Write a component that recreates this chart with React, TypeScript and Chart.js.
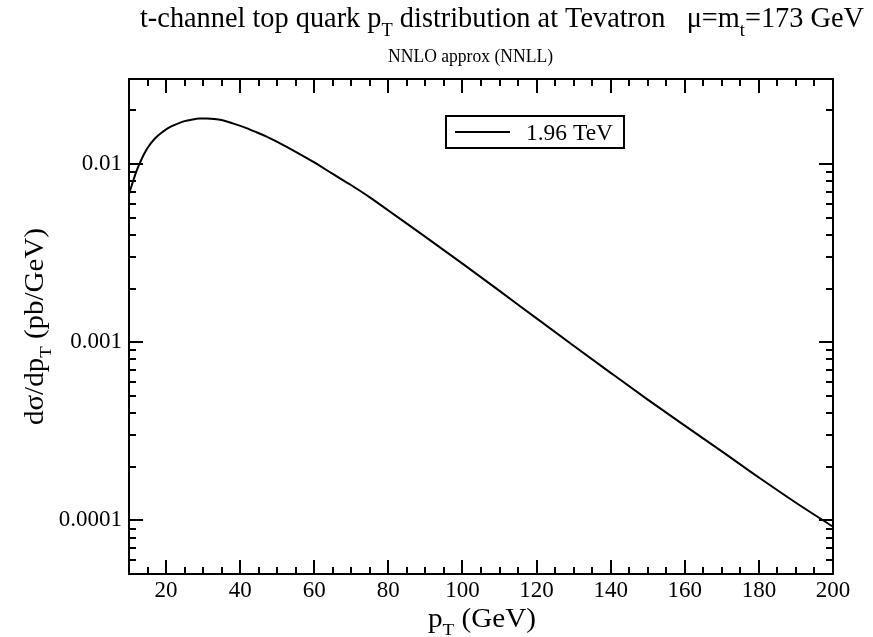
import React, { useEffect, useRef } from 'react';
import { Chart, registerables } from 'chart.js';

Chart.register(...registerables);

// ---- data ----
const ptValues = [10, 11, 12, 13, 14, 15, 17, 19, 21, 23, 25, 27, 29, 31, 33, 35, 38, 41, 44, 47, 50, 55, 60, 65, 70, 75, 80, 90, 100, 110, 120, 130, 140, 150, 160, 170, 180, 190, 200];
const dsigmaValues = [0.0068, 0.0079, 0.0091, 0.0102, 0.0113, 0.0123, 0.0139, 0.0151, 0.0161, 0.0168, 0.0174, 0.01775, 0.01798, 0.01800, 0.0179, 0.01765, 0.0169, 0.0161, 0.0152, 0.0143, 0.0133, 0.0117, 0.0102, 0.0088, 0.0076, 0.0065, 0.00548, 0.0039, 0.00276, 0.00194, 0.00136, 0.000955, 0.000673, 0.000476, 0.00034, 0.000244, 0.000174, 0.0001256, 0.0000921];

const xMajorTicks = [20, 40, 60, 80, 100, 120, 140, 160, 180, 200];
const xMinorTicks = [15, 25, 30, 35, 45, 50, 55, 65, 70, 75, 85, 90, 95, 105, 110, 115, 125, 130, 135, 145, 150, 155, 165, 170, 175, 185, 190, 195];
const yMajorTicks = [0.0001, 0.001, 0.01];
const yTickLabels = ['0.0001', '0.001', '0.01'];
const yMinorTicks = [0.00006, 0.00007, 0.00008, 0.00009, 0.0002, 0.0003, 0.0004, 0.0005, 0.0006, 0.0007, 0.0008, 0.0009, 0.002, 0.003, 0.004, 0.005, 0.006, 0.007, 0.008, 0.009, 0.02];

const seriesLabel = '1.96 TeV';
const FONT = '"Liberation Serif", "Times New Roman", serif';

type Seg = { t: string; sub?: boolean };

function drawRich(ctx: CanvasRenderingContext2D, segs: Seg[], x: number, y: number, size: number, targetWidth?: number) {
  const subSize = size * 0.65;
  const widths = segs.map((s) => {
    ctx.font = `${s.sub ? subSize : size}px ${FONT}`;
    return ctx.measureText(s.t).width;
  });
  const total = widths.reduce((a, b) => a + b, 0);
  const sx = targetWidth ? targetWidth / total : 1;
  ctx.save();
  ctx.translate(x, y);
  ctx.scale(sx, 1);
  ctx.textAlign = 'left';
  ctx.textBaseline = 'alphabetic';
  ctx.fillStyle = '#000';
  let cx = 0;
  segs.forEach((s, i) => {
    ctx.font = `${s.sub ? subSize : size}px ${FONT}`;
    ctx.fillText(s.t, cx, s.sub ? size * 0.3 : 0);
    cx += widths[i];
  });
  ctx.restore();
}

const decorPlugin = {
  id: 'decor',
  afterDraw(chart: any) {
    const ctx: CanvasRenderingContext2D = chart.ctx;
    const { left, right, top, bottom } = chart.chartArea;
    const xs = chart.scales.x;
    const ys = chart.scales.y;
    ctx.save();
    ctx.strokeStyle = '#000';
    ctx.lineWidth = 2;
    ctx.lineCap = 'butt';
    // frame
    ctx.strokeRect(left, top, right - left, bottom - top);
    const major = 14;
    const minor = 7;
    ctx.beginPath();
    const xt = (v: number, len: number) => {
      const px = Math.round(xs.getPixelForValue(v));
      ctx.moveTo(px, bottom);
      ctx.lineTo(px, bottom - len);
      ctx.moveTo(px, top);
      ctx.lineTo(px, top + len);
    };
    const yt = (v: number, len: number) => {
      const py = Math.round(ys.getPixelForValue(v));
      ctx.moveTo(left, py);
      ctx.lineTo(left + len, py);
      ctx.moveTo(right, py);
      ctx.lineTo(right - len, py);
    };
    xMajorTicks.forEach((v) => xt(v, major));
    xMinorTicks.forEach((v) => xt(v, minor));
    yMajorTicks.forEach((v) => yt(v, major));
    yMinorTicks.forEach((v) => yt(v, minor));
    ctx.stroke();

    // legend
    ctx.lineWidth = 2;
    ctx.strokeRect(446, 116, 178, 32);
    ctx.beginPath();
    ctx.moveTo(455, 132);
    ctx.lineTo(510, 132);
    ctx.stroke();
    drawRich(ctx, [{ t: seriesLabel }], 526, 140, 23, 87);

    // titles
    drawRich(
      ctx,
      [
        { t: 't-channel top quark p' },
        { t: 'T', sub: true },
        { t: ' distribution at Tevatron   \u03BC=m' },
        { t: 't', sub: true },
        { t: '=173 GeV' },
      ],
      140,
      27,
      29,
      724
    );
    drawRich(ctx, [{ t: 'NNLO approx (NNLL)' }], 388, 62, 18, 165);
    drawRich(ctx, [{ t: 'p' }, { t: 'T', sub: true }, { t: ' (GeV)' }], 428, 627, 27, 108);

    ctx.save();
    ctx.translate(43, 425);
    ctx.rotate(-Math.PI / 2);
    drawRich(ctx, [{ t: 'd\u03C3/dp' }, { t: 'T', sub: true }, { t: ' (pb/GeV)' }], 0, 0, 27, 197);
    ctx.restore();

    ctx.restore();
  },
};

export default function App() {
  const canvasRef = useRef<HTMLCanvasElement | null>(null);

  useEffect(() => {
    if (!canvasRef.current) return;
    const chart = new Chart(canvasRef.current, {
      type: 'line',
      data: {
        datasets: [
          {
            label: seriesLabel,
            data: ptValues.map((x, i) => ({ x, y: dsigmaValues[i] })),
            borderColor: '#000',
            borderWidth: 2,
            pointRadius: 0,
            fill: false,
            cubicInterpolationMode: 'monotone',
          },
        ],
      },
      options: {
        responsive: false,
        animation: false,
        devicePixelRatio: 1,
        layout: { padding: { left: 0, right: 40, top: 79, bottom: 0 } },
        plugins: {
          legend: { display: false },
          title: { display: false },
          tooltip: { enabled: false },
        },
        scales: {
          x: {
            type: 'linear',
            min: 10,
            max: 200,
            grid: { display: false, drawTicks: false },
            border: { display: false },
            afterBuildTicks: (s: any) => {
              s.ticks = xMajorTicks.map((v) => ({ value: v }));
            },
            afterFit: (s: any) => {
              s.height = 63;
            },
            ticks: {
              autoSkip: false,
              maxRotation: 0,
              padding: 3,
              color: '#000',
              font: { family: FONT, size: 23 },
              callback: (v: any) => String(v),
            },
          },
          y: {
            type: 'logarithmic',
            min: 0.00005,
            max: 0.03,
            grid: { display: false, drawTicks: false },
            border: { display: false },
            afterBuildTicks: (s: any) => {
              s.ticks = yMajorTicks.map((v) => ({ value: v, major: true }));
            },
            afterFit: (s: any) => {
              s.width = 129;
            },
            ticks: {
              autoSkip: false,
              padding: 7,
              color: '#000',
              font: { family: FONT, size: 23 },
              callback: (v: any) => {
                const i = yMajorTicks.findIndex((t) => Math.abs(t - v) / t < 1e-6);
                return i >= 0 ? yTickLabels[i] : '';
              },
            },
          },
        },
      } as any,
      plugins: [decorPlugin],
    });
    return () => chart.destroy();
  }, []);

  return (
    <div style={{ position: 'fixed', left: 0, top: 0, width: 873, height: 637, background: '#fff' }}>
      <canvas ref={canvasRef} width={873} height={637} style={{ display: 'block' }} />
    </div>
  );
}
